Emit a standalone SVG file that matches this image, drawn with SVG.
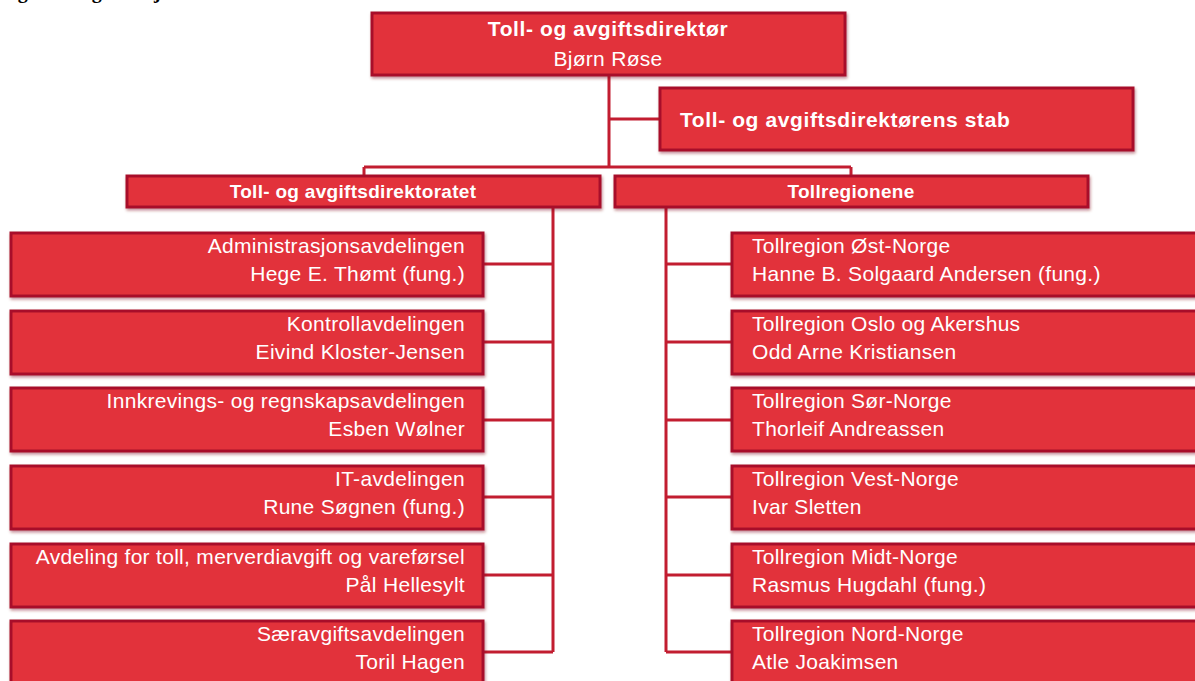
<svg xmlns="http://www.w3.org/2000/svg" width="1195" height="681" viewBox="0 0 1195 681">
<defs>
<filter id="sh" x="-5%" y="-20%" width="110%" height="150%">
<feDropShadow dx="1" dy="2" stdDeviation="1.5" flood-color="#7a0a1e" flood-opacity="0.45"/>
</filter>
</defs>
<style>
.box{fill:#e2333b;stroke:#a80f2c;stroke-width:3;filter:url(#sh)}
.t{font-family:"Liberation Sans",Arial,sans-serif;font-size:21px;letter-spacing:0.3px;fill:#ffffff}
.b{font-weight:bold;font-size:21px;letter-spacing:0.6px}
.s{font-size:19px;letter-spacing:0.3px}
.r{text-anchor:end}
.c{text-anchor:middle}
.ln{stroke:#c21d30;stroke-width:3;fill:none}
.cap{font-family:"Liberation Serif","Times New Roman",serif;font-size:20px;font-weight:bold;fill:#000}
</style>
<rect width="1195" height="681" fill="#ffffff"/>
<text class="cap" x="0" y="-2">Figur 1 Organisasjonskart</text>
<g id="connectors">
<path class="ln" d="M609 75 V167 M609 119 H660 M364 167 H851 M364 167 V176 M851 167 V176"/>
<path class="ln" d="M553 207 V652 M483 264 H553 M483 342 H553 M483 420 H553 M483 497 H553 M483 575 H553 M483 652 H553"/>
<path class="ln" d="M666 207 V652 M666 264 H732 M666 342 H732 M666 420 H732 M666 497 H732 M666 575 H732 M666 652 H732"/>
</g>
<g id="direktor">
<rect class="box" x="372" y="13" width="473" height="62"/>
<text class="t b c" x="608" y="36">Toll- og avgiftsdirektør</text>
<text class="t c" x="608" y="66">Bjørn Røse</text>
</g>
<g id="stab">
<rect class="box" x="660" y="88" width="473" height="62"/>
<text class="t b" x="680" y="127">Toll- og avgiftsdirektørens stab</text>
</g>
<g id="direktoratet">
<rect class="box" x="127" y="176" width="473" height="31"/>
<text class="t b s c" x="353" y="198">Toll- og avgiftsdirektoratet</text>
</g>
<g id="tollregionene">
<rect class="box" x="615" y="176" width="473" height="31"/>
<text class="t b s c" x="851" y="198">Tollregionene</text>
</g>
<g id="adm">
<rect class="box" x="11" y="233" width="472" height="63"/>
<text class="t r" x="465" y="253">Administrasjonsavdelingen</text>
<text class="t r" x="465" y="281">Hege E. Thømt (fung.)</text>
</g>
<g id="kontroll">
<rect class="box" x="11" y="311" width="472" height="63"/>
<text class="t r" x="465" y="331">Kontrollavdelingen</text>
<text class="t r" x="465" y="359">Eivind Kloster-Jensen</text>
</g>
<g id="innkreving">
<rect class="box" x="11" y="388" width="472" height="63"/>
<text class="t r" x="465" y="408">Innkrevings- og regnskapsavdelingen</text>
<text class="t r" x="465" y="436">Esben Wølner</text>
</g>
<g id="it">
<rect class="box" x="11" y="466" width="472" height="63"/>
<text class="t r" x="465" y="486">IT-avdelingen</text>
<text class="t r" x="465" y="514">Rune Søgnen (fung.)</text>
</g>
<g id="toll-mva">
<rect class="box" x="11" y="544" width="472" height="63"/>
<text class="t r" x="465" y="564">Avdeling for toll, merverdiavgift og vareførsel</text>
<text class="t r" x="465" y="592">Pål Hellesylt</text>
</g>
<g id="saeravgift">
<rect class="box" x="11" y="621" width="472" height="63"/>
<text class="t r" x="465" y="641">Særavgiftsavdelingen</text>
<text class="t r" x="465" y="669">Toril Hagen</text>
</g>
<g id="ost">
<rect class="box" x="732" y="233" width="480" height="63"/>
<text class="t" x="752" y="253">Tollregion Øst-Norge</text>
<text class="t" x="752" y="281">Hanne B. Solgaard Andersen (fung.)</text>
</g>
<g id="oslo">
<rect class="box" x="732" y="311" width="480" height="63"/>
<text class="t" x="752" y="331">Tollregion Oslo og Akershus</text>
<text class="t" x="752" y="359">Odd Arne Kristiansen</text>
</g>
<g id="sor">
<rect class="box" x="732" y="388" width="480" height="63"/>
<text class="t" x="752" y="408">Tollregion Sør-Norge</text>
<text class="t" x="752" y="436">Thorleif Andreassen</text>
</g>
<g id="vest">
<rect class="box" x="732" y="466" width="480" height="63"/>
<text class="t" x="752" y="486">Tollregion Vest-Norge</text>
<text class="t" x="752" y="514">Ivar Sletten</text>
</g>
<g id="midt">
<rect class="box" x="732" y="544" width="480" height="63"/>
<text class="t" x="752" y="564">Tollregion Midt-Norge</text>
<text class="t" x="752" y="592">Rasmus Hugdahl (fung.)</text>
</g>
<g id="nord">
<rect class="box" x="732" y="621" width="480" height="63"/>
<text class="t" x="752" y="641">Tollregion Nord-Norge</text>
<text class="t" x="752" y="669">Atle Joakimsen</text>
</g>
</svg>
